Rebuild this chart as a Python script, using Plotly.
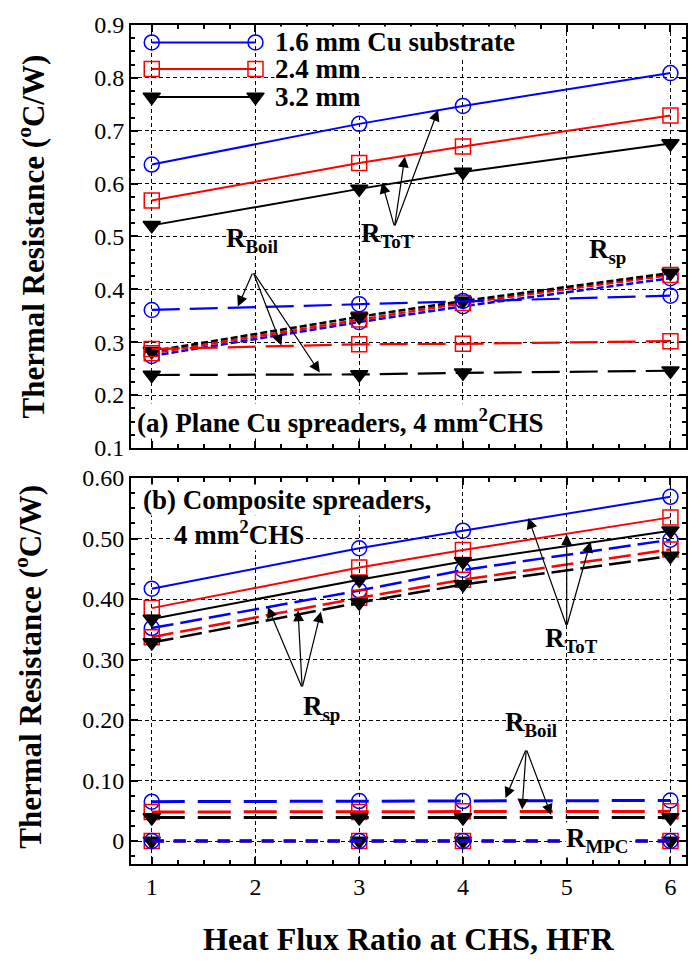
import plotly.graph_objects as go

# ---------------- data ----------------
hfr = [1, 3, 4, 6]
series_names = ["1.6 mm Cu substrate", "2.4 mm", "3.2 mm"]

# (a) plane Cu spreaders
a_tot_16 = [0.636, 0.713, 0.747, 0.809]
a_tot_24 = [0.568, 0.639, 0.670, 0.729]
a_tot_32 = [0.521, 0.590, 0.622, 0.676]
a_boil_16 = [0.361, 0.372, 0.378, 0.388]
a_boil_24 = [0.287, 0.296, 0.297, 0.302]
a_boil_32 = [0.238, 0.239, 0.242, 0.246]
a_sp_16 = [0.274, 0.338, 0.368, 0.421]
a_sp_24 = [0.279, 0.343, 0.374, 0.427]
a_sp_32 = [0.283, 0.348, 0.378, 0.431]

# (b) composite spreaders
b_tot_16 = [0.417, 0.484, 0.513, 0.569]
b_tot_24 = [0.385, 0.452, 0.481, 0.535]
b_tot_32 = [0.367, 0.432, 0.462, 0.513]
b_sp_16 = [0.352, 0.414, 0.448, 0.498]
b_sp_24 = [0.337, 0.402, 0.432, 0.482]
b_sp_32 = [0.328, 0.394, 0.424, 0.471]
b_boil_16 = [0.065, 0.066, 0.066, 0.067]
b_boil_24 = [0.048, 0.048, 0.049, 0.049]
b_boil_32 = [0.039, 0.039, 0.039, 0.039]
b_mpc_16 = [0.0, 0.0, 0.0, 0.0]
b_mpc_24 = [0.0, 0.0, 0.0, 0.0]
b_mpc_32 = [0.0, 0.0, 0.0, 0.0]

y2_tickvals = [0, 0.1, 0.2, 0.3, 0.4, 0.5, 0.6]
y2_ticktext = ["0", "0.10", "0.20", "0.30", "0.40", "0.50", "0.60"]

# ---------------- styles ----------------
FONT = "Liberation Serif"
colors = ["#0000FF", "#FF0000", "#000000"]
symbols = ["circle-open", "square-open", "triangle-down"]
msizes = [15, 15, 15]

fig = go.Figure()


def add(x, y, i, dash, width, xa, ya):
    fig.add_trace(go.Scatter(
        x=x, y=y, mode="lines+markers", xaxis=xa, yaxis=ya,
        line=dict(color=colors[i], width=width, dash=dash),
        marker=dict(symbol=symbols[i], size=msizes[i], color=colors[i],
                    line=dict(color=colors[i], width=1.5)),
        showlegend=False, hoverinfo="skip"))


# panel (a)
for i, s in enumerate([a_sp_16, a_sp_24, a_sp_32]):
    add(hfr, s, i, "7px,3px", 2.5, "x", "y")
for i, s in enumerate([a_boil_16, a_boil_24, a_boil_32]):
    add(hfr, s, i, "28px,10px", 2.2, "x", "y")
for i, s in enumerate([a_tot_16, a_tot_24, a_tot_32]):
    add(hfr, s, i, "solid", 2, "x", "y")

# legend samples (drawn inside panel a)
leg_x = [1, 2]
leg_y = [0.867, 0.817, 0.764]
for i in range(3):
    add(leg_x, [leg_y[i]] * 2, i, "solid", 2, "x", "y")

# panel (b)
for i, s in [(2, b_mpc_32), (1, b_mpc_24), (0, b_mpc_16)]:
    add(hfr, s, i, "12px,10px", 3, "x2", "y2")
for i, s in enumerate([b_boil_16, b_boil_24, b_boil_32]):
    add(hfr, s, i, "33px,13px", 3, "x2", "y2")
for i, s in enumerate([b_sp_16, b_sp_24, b_sp_32]):
    add(hfr, s, i, "22px,7px", 2.5, "x2", "y2")
for i, s in enumerate([b_tot_16, b_tot_24, b_tot_32]):
    add(hfr, s, i, "solid", 2, "x2", "y2")

# ---------------- axes ----------------
common = dict(showline=True, linewidth=2, linecolor="black", mirror="allticks",
              ticks="inside", ticklen=7, tickwidth=1.5, tickcolor="black",
              showgrid=True, gridcolor="black", gridwidth=1, griddash="4px,3px",
              zeroline=False, tickfont=dict(family=FONT, size=24, color="black"))
xr = [0.8, 6.15]
xcommon = dict(common, range=xr, tick0=1, dtick=1,
               minor=dict(ticks="inside", ticklen=4, dtick=0.25, tick0=1,
                          tickcolor="black", tickwidth=1.5, showgrid=False))

fig.update_layout(
    width=700, height=963,
    margin=dict(l=131, r=14, t=13, b=99),
    paper_bgcolor="white", plot_bgcolor="white",
    font=dict(family=FONT, color="black"),
    showlegend=False,
    xaxis=dict(xcommon, anchor="y", domain=[0, 1], showticklabels=False),
    xaxis2=dict(xcommon, anchor="y2", domain=[0, 1], matches="x"),
    yaxis=dict(common, domain=[0.4959, 1.0], range=[0.1, 0.9], tick0=0.1, dtick=0.1,
               tickformat=".1f",
               minor=dict(ticks="inside", ticklen=4, dtick=0.025, tick0=0.1,
                          tickcolor="black", tickwidth=1.5, showgrid=False)),
    yaxis2=dict(common, domain=[0.0, 0.46], range=[-0.038, 0.6],
                tickvals=y2_tickvals, ticktext=y2_ticktext,
                minor=dict(ticks="inside", ticklen=4, dtick=0.025, tick0=0,
                           tickcolor="black", tickwidth=1.5, showgrid=False)),
)

ann = []


def text(x, y, t, xr_, yr_, size=27, xanchor="left", yanchor="middle", bg=None, yshift=0):
    d = dict(x=x, y=y, xref=xr_, yref=yr_, text=t, showarrow=False,
             xanchor=xanchor, yanchor=yanchor, yshift=yshift,
             font=dict(family=FONT, size=size, color="black"))
    if bg:
        d.update(bgcolor=bg, borderpad=0)
    ann.append(d)


def arrow(x0, y0, x1, y1, xr_, yr_):
    ann.append(dict(x=x1, y=y1, ax=x0, ay=y0, xref=xr_, yref=yr_, axref=xr_, ayref=yr_,
                    text="", showarrow=True, arrowhead=2, arrowsize=1.8,
                    arrowwidth=1.2, arrowcolor="black", standoff=0, startstandoff=0))


RS = 14  # lift for R labels
# legend texts
for i, name in enumerate(series_names):
    text(2.18, leg_y[i], "<b>%s</b>" % name, "x", "y", bg="white")

# panel (a) labels
text(0.85, 0.142, "<b>(a) Plane Cu spreaders, 4 mm<sup>2</sup>CHS</b>", "x", "y",
     bg="white", yshift=5)
text(3.0, 0.512, "<b>R<sub>ToT</sub></b>", "x", "y", size=27, yanchor="top", yshift=RS)
text(1.70, 0.503, "<b>R<sub>Boil</sub></b>", "x", "y", size=27, yanchor="top", yshift=RS)
text(5.20, 0.487, "<b>R<sub>sp</sub></b>", "x", "y", size=27, yanchor="top", yshift=RS - 3)
for (x1, y1) in [(3.76, 0.739), (3.44, 0.651), (3.22, 0.602)]:
    arrow(3.34, 0.518, x1, y1, "x", "y")
for (x1, y1) in [(1.83, 0.3675), (2.25, 0.294), (2.62, 0.2425)]:
    arrow(1.976, 0.433, x1, y1, "x", "y")

# panel (b) labels
text(0.91, 0.561, "<b>(b) Composite spreaders,</b>", "x2", "y2", bg="white", yshift=2)
text(1.2, 0.504, "<b>4 mm<sup>2</sup>CHS</b>", "x2", "y2", bg="white", yshift=3)
text(4.77, 0.341, "<b>R<sub>ToT</sub></b>", "x2", "y2", size=27, yanchor="top", yshift=RS)
text(2.44, 0.234, "<b>R<sub>sp</sub></b>", "x2", "y2", size=27, yanchor="top", yshift=RS - 4)
text(4.39, 0.201, "<b>R<sub>Boil</sub></b>", "x2", "y2", size=27, yanchor="top", yshift=RS)
text(4.98, 0.019, "<b>R<sub>MPC</sub></b>", "x2", "y2", size=27, yanchor="top",
     bg="white", yshift=RS - 6)
for (x1, y1) in [(4.63, 0.534), (5.0, 0.507), (5.23, 0.495)]:
    arrow(5.0, 0.355, x1, y1, "x2", "y2")
for (x1, y1) in [(2.12, 0.387), (2.41, 0.381), (2.63, 0.379)]:
    arrow(2.45, 0.253, x1, y1, "x2", "y2")
for (x1, y1) in [(4.41, 0.071), (4.57, 0.052), (4.85, 0.043)]:
    arrow(4.61, 0.152, x1, y1, "x2", "y2")

# axis titles
ytitle = "<b>Thermal Resistance (<sup>o</sup>C/W)</b>"
text(-0.180, 0.748, ytitle, "paper", "paper", size=31, xanchor="center")
ann[-1]["textangle"] = -90
text(-0.184, 0.235, ytitle, "paper", "paper", size=31, xanchor="center")
ann[-1]["textangle"] = -90
text(0.5, -0.0893, "<b>Heat Flux Ratio at CHS, HFR</b>", "paper", "paper", size=32,
     xanchor="center")

fig.update_layout(annotations=ann)
fig.write_html("out.html")
